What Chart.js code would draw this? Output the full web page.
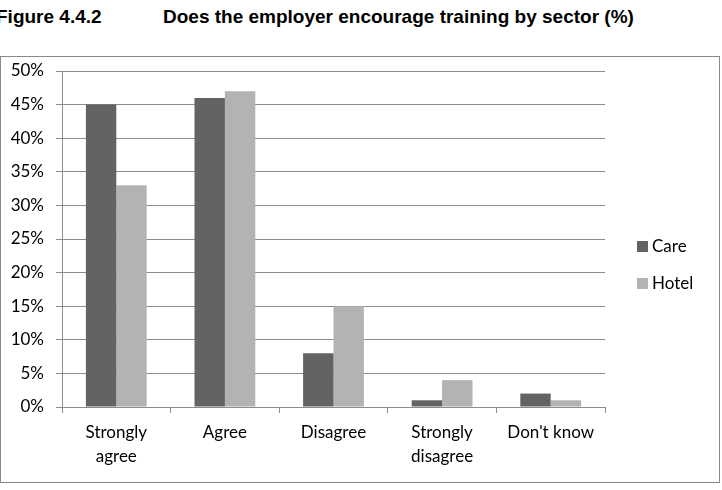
<!DOCTYPE html>
<html>
<head>
<meta charset="utf-8">
<script src="https://cdn.jsdelivr.net/npm/chart.js@4"></script>
<style>
  body{ margin:0; background:#fff; width:722px; height:490px; overflow:hidden; position:relative; }
  #title{ position:absolute; left:-4px; top:6px; font:bold 19px "Liberation Sans", Arial, sans-serif; color:#000; white-space:nowrap; }
  #title span{ display:inline-block; width:167px; }
  #frame{ position:absolute; left:0; top:56px; width:718px; height:425px; border:1px solid #8a8a8a; }
  #wrap{ position:absolute; left:0; top:0; width:722px; height:490px; }
</style>
</head>
<body>
<div id="title"><span>Figure 4.4.2</span>Does the employer encourage training by sector (%)</div>
<div id="frame"></div>
<div id="wrap"><canvas id="chart" width="722" height="490"></canvas></div>
<script>
/* ========= DATA ========= */
const CATEGORIES = [["Strongly","agree"],"Agree","Disagree",["Strongly","disagree"],"Don't know"];
const CARE  = [45,46,8,1,2];
const HOTEL = [33,47,15,4,1];
const Y_TICKS = [0,5,10,15,20,25,30,35,40,45,50];

const FONT = "Lato, 'Open Sans', sans-serif";
const GRID = "#8c8c8c";

/* ========= LEGEND (drawn on canvas) ========= */
const sideLegend = {
  id:"sideLegend",
  afterDraw(chart){
    const ctx = chart.ctx;
    ctx.save();
    ctx.font = "17px " + FONT;
    ctx.textBaseline = "middle";
    chart.data.datasets.forEach((ds,i)=>{
      const y = 247 + i*37;
      ctx.fillStyle = ds.backgroundColor;
      ctx.fillRect(637, y-6, 11, 11);
      ctx.fillStyle = "#000";
      ctx.fillText(ds.label, 652, y);
    });
    ctx.restore();
  }
};

new Chart(document.getElementById("chart"),{
  type:"bar",
  data:{
    labels:CATEGORIES,
    datasets:[
      { label:"Care",  data:CARE,  backgroundColor:"#636363" },
      { label:"Hotel", data:HOTEL, backgroundColor:"#b3b3b3" }
    ]
  },
  options:{
    responsive:false,
    animation:false,
    devicePixelRatio:1,
    datasets:{ bar:{ categoryPercentage:0.56, barPercentage:1.0 } },
    layout:{ padding:{ left:0, right:117, top:71, bottom:0 } },
    plugins:{ legend:{display:false}, tooltip:{enabled:false} },
    scales:{
      x:{
        offset:true,
        grid:{ offset:true, drawOnChartArea:false, drawTicks:true, tickLength:6, color:GRID },
        border:{ color:GRID },
        ticks:{ color:"#000", font:{ family:FONT, size:17, lineHeight:1.42 }, padding:7, maxRotation:0 },
        afterFit(s){ s.height = 83; }
      },
      y:{
        min:0, max:50,
        afterBuildTicks(s){ s.ticks = Y_TICKS.map(v=>({value:v})); },
        grid:{ color:GRID, tickLength:6 },
        border:{ color:GRID },
        ticks:{ color:"#000", font:{ family:FONT, size:17 }, padding:12, callback:v=>v+"%" },
        afterFit(s){ s.width = 62; }
      }
    }
  },
  plugins:[sideLegend]
});
</script>
</body>
</html>
